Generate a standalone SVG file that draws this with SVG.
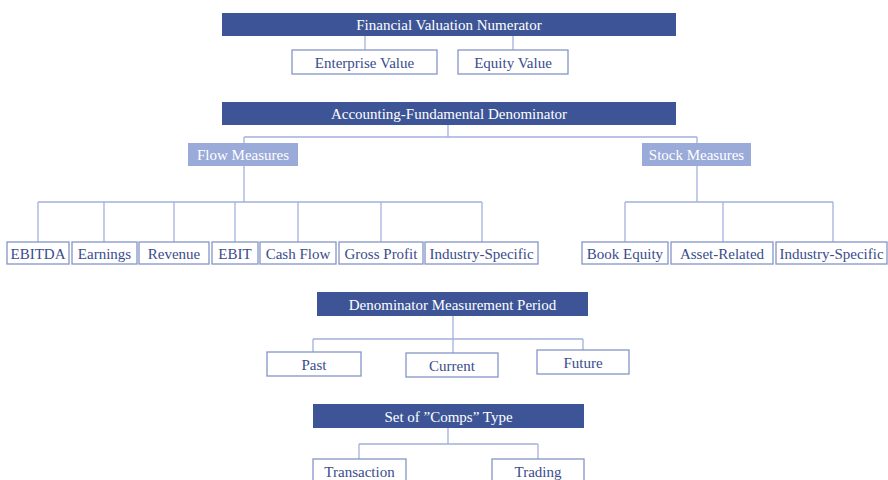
<svg xmlns="http://www.w3.org/2000/svg" width="888" height="480" viewBox="0 0 888 480">
<style>
.bar{fill:#3d5596}
.lt{fill:#9aaad9}
.bx{fill:#fff;stroke:#8596c8;stroke-width:1.3}
.tw{fill:#fff;font-family:"Liberation Serif","DejaVu Serif",serif;font-size:15px;text-anchor:middle}
.tb{fill:#3a4c8c;font-family:"Liberation Serif","DejaVu Serif",serif;font-size:15px;text-anchor:middle}
.ln{fill:none;stroke:#a3b1dc;stroke-width:1.3}
</style>
<rect width="888" height="480" fill="#fff"/>
<g id="connectors" class="ln">
<path d="M365 36V50M513 36V50"/>
<path d="M448 125V137M244 137H697M244 137V143M697 137V143"/>
<path d="M244 166V202M38 202H482M38 202V242M104 202V242M174 202V242M235 202V242M298 202V242M381 202V242M482 202V242"/>
<path d="M697 166V202M625 202H833M625 202V242M723 202V242M833 202V242"/>
<path d="M453 316V353M313 339H583M313 339V352M583 339V350"/>
<path d="M448 428V444M359 444H538M359 444V459M538 444V459"/>
</g>
<g id="numerator"><rect class="bar" x="222" y="13" width="454" height="23"/><text class="tw" x="449" y="29.5">Financial Valuation Numerator</text></g>
<g id="ev"><rect class="bx" x="292" y="50" width="145" height="24"/><text class="tb" x="364.5" y="67.5">Enterprise Value</text></g>
<g id="eqv"><rect class="bx" x="458" y="50" width="110" height="24"/><text class="tb" x="513" y="67.5">Equity Value</text></g>
<g id="denominator"><rect class="bar" x="222" y="102" width="454" height="23"/><text class="tw" x="449" y="118.5">Accounting-Fundamental Denominator</text></g>
<g id="flow"><rect class="lt" x="188" y="143" width="110" height="23"/><text class="tw" x="243" y="159.5">Flow Measures</text></g>
<g id="stock"><rect class="lt" x="642" y="143" width="109" height="23"/><text class="tw" x="696.5" y="159.5">Stock Measures</text></g>
<g id="ebitda"><rect class="bx" x="7" y="242" width="62" height="22"/><text class="tb" x="38" y="258.5">EBITDA</text></g>
<g id="earnings"><rect class="bx" x="72" y="242" width="65" height="22"/><text class="tb" x="104.5" y="258.5">Earnings</text></g>
<g id="revenue"><rect class="bx" x="139" y="242" width="70" height="22"/><text class="tb" x="174" y="258.5">Revenue</text></g>
<g id="ebit"><rect class="bx" x="212" y="242" width="46" height="22"/><text class="tb" x="235" y="258.5">EBIT</text></g>
<g id="cashflow"><rect class="bx" x="260" y="242" width="76" height="22"/><text class="tb" x="298" y="258.5">Cash Flow</text></g>
<g id="grossprofit"><rect class="bx" x="339" y="242" width="84" height="22"/><text class="tb" x="381" y="258.5">Gross Profit</text></g>
<g id="industry1"><rect class="bx" x="425" y="242" width="113" height="22"/><text class="tb" x="481.5" y="258.5">Industry-Specific</text></g>
<g id="bookequity"><rect class="bx" x="582" y="242" width="86" height="22"/><text class="tb" x="625" y="258.5">Book Equity</text></g>
<g id="assetrelated"><rect class="bx" x="671" y="242" width="102" height="22"/><text class="tb" x="722" y="258.5">Asset-Related</text></g>
<g id="industry2"><rect class="bx" x="776" y="242" width="111" height="22"/><text class="tb" x="831.5" y="258.5">Industry-Specific</text></g>
<g id="period"><rect class="bar" x="317" y="292" width="271" height="24"/><text class="tw" x="452.5" y="309.5">Denominator Measurement Period</text></g>
<g id="past"><rect class="bx" x="267" y="352" width="94" height="24"/><text class="tb" x="314" y="369.5">Past</text></g>
<g id="current"><rect class="bx" x="406" y="353" width="92" height="24"/><text class="tb" x="452" y="370.5">Current</text></g>
<g id="future"><rect class="bx" x="537" y="350" width="92" height="24"/><text class="tb" x="583" y="367.5">Future</text></g>
<g id="comps"><rect class="bar" x="313" y="404" width="271" height="24"/><text class="tw" x="448.5" y="421.5">Set of ”Comps” Type</text></g>
<g id="transaction"><rect class="bx" x="313" y="459" width="93" height="26"/><text class="tb" x="359.5" y="476.5">Transaction</text></g>
<g id="trading"><rect class="bx" x="492" y="459" width="92" height="26"/><text class="tb" x="538" y="476.5">Trading</text></g>
</svg>
